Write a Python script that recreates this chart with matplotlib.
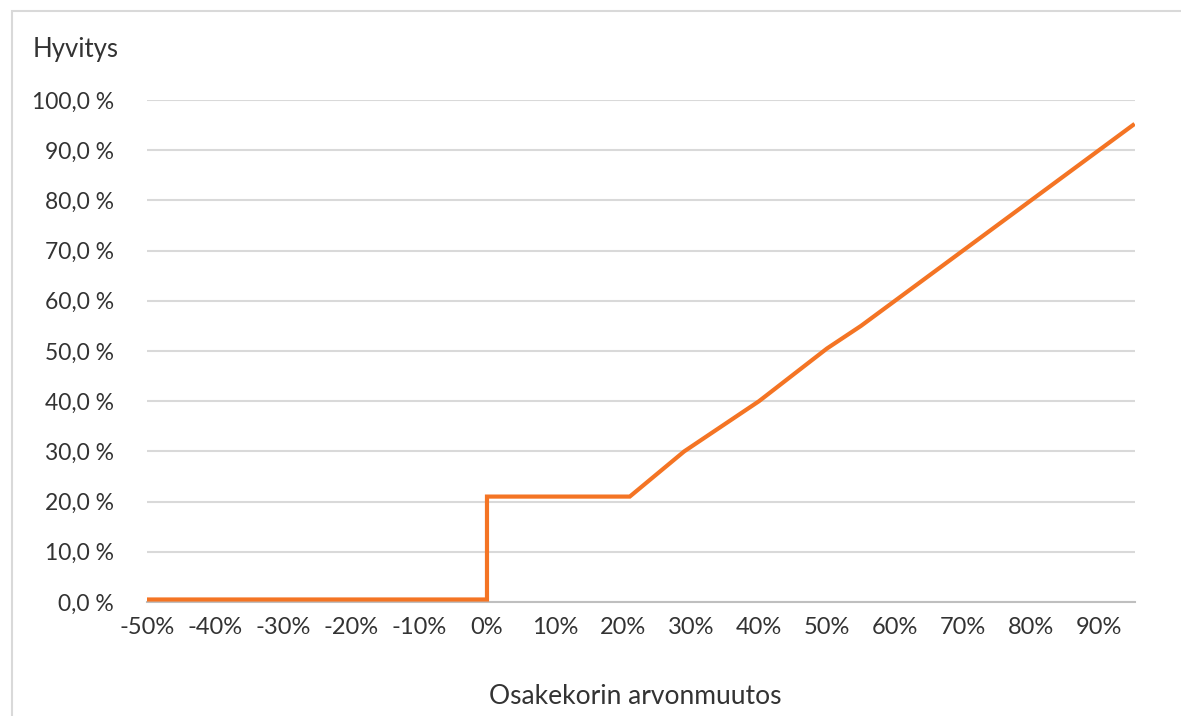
import matplotlib
matplotlib.use('Agg')
import matplotlib.pyplot as plt
from matplotlib.patches import Rectangle
from matplotlib.ticker import FuncFormatter

plt.rcParams['font.family'] = ['Lato', 'DejaVu Sans']

# osakekorin arvonmuutos (%) ja hyvitys (%)
change = [-50, 0, 0, 21, 29, 40, 50, 55, 65, 70, 85, 90, 95]
payout = [0.5, 0.5, 21, 21, 30, 40, 50.5, 55, 65, 70, 85, 90, 95]

x_ticks = list(range(-50, 91, 10))
y_ticks = list(range(0, 101, 10))

title = 'Hyvitys'
x_label = 'Osakekorin arvonmuutos'

text_color = '#333333'
grid_color = '#d9d9d9'
line_color = '#f47424'

fig = plt.figure(figsize=(11.81, 7.16), dpi=100)
w, h = 1181, 716

# ulkokehys
frame = Rectangle((12 / w, -0.1), 1.2, 1 - 11 / h + 0.1, transform=fig.transFigure,
                  fill=False, edgecolor='#d9d9d9', linewidth=1.5)
fig.patches.append(frame)

ax = fig.add_axes([147 / w, 1 - 602 / h, (1135 - 147) / w, (602 - 100) / h])
ax.plot(change, payout, color=line_color, linewidth=3, solid_joinstyle='miter', zorder=3)

ax.set_xlim(-50, 95.3)
ax.set_ylim(0, 100)
ax.set_xticks(x_ticks)
ax.set_yticks(y_ticks)
ax.xaxis.set_major_formatter(FuncFormatter(lambda v, p: '{}%'.format(int(v))))
ax.yaxis.set_major_formatter(FuncFormatter(lambda v, p: '{:.1f} %'.format(v).replace('.', ',')))

ax.grid(axis='y', color=grid_color, linewidth=1.5)
ax.set_axisbelow(True)
for s in ['top', 'right', 'left']:
    ax.spines[s].set_visible(False)
ax.spines['bottom'].set_color('#bfbfbf')
ax.spines['bottom'].set_linewidth(1.5)
ax.tick_params(axis='both', length=0, labelcolor=text_color)
ax.tick_params(axis='y', pad=24, labelsize=16.5)
ax.tick_params(axis='x', pad=11, labelsize=17)

fig.text(33 / w, 1 - 50 / h, title, fontsize=18.5, color=text_color, va='center', ha='left')
fig.text(635 / w, 1 - 697 / h, x_label, fontsize=19, color=text_color, va='center', ha='center')

fig.savefig('out.png', dpi=100)
